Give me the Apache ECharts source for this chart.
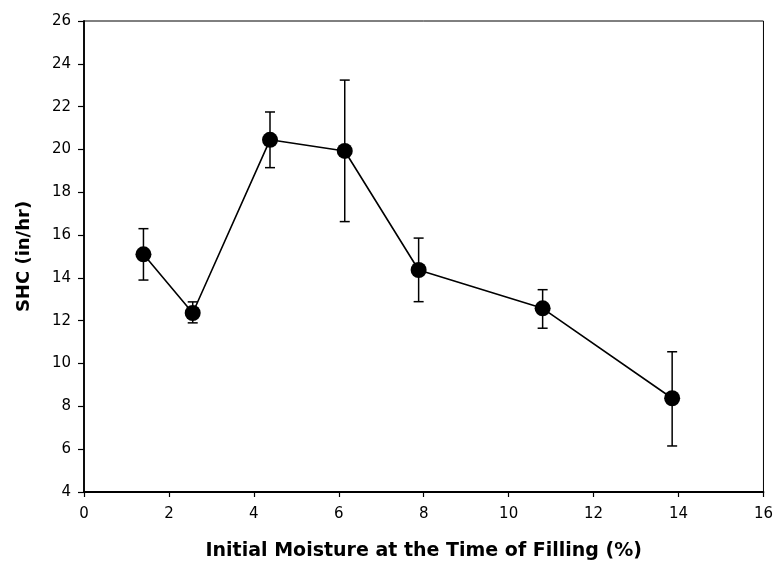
<!DOCTYPE html>
<html>
<head>
<meta charset="utf-8">
<script src="https://cdn.jsdelivr.net/npm/echarts@6/dist/echarts.min.js"></script>
<style>html,body{margin:0;padding:0;background:#fff;}#c{width:776px;height:569px;}</style>
</head>
<body>
<div id="c"></div>
<script>
var moisture = [1.4, 2.56, 4.38, 6.14, 7.88, 10.8, 13.85];
var shc = [15.1, 12.36, 20.45, 19.93, 14.37, 12.58, 8.38];
var errLow = [13.9, 11.9, 19.15, 16.63, 12.89, 11.65, 6.15];
var errHigh = [16.3, 12.88, 21.75, 23.24, 15.86, 13.45, 10.55];
var xTicks = [0, 2, 4, 6, 8, 10, 12, 14, 16];
var yTicks = [4, 6, 8, 10, 12, 14, 16, 18, 20, 22, 24, 26];

var lineData = moisture.map(function (x, i) { return [x, shc[i]]; });
var errData = moisture.map(function (x, i) { return [x, errLow[i], errHigh[i]]; });

var chart = echarts.init(document.getElementById('c'));
var font = 'DejaVu Sans, Liberation Sans, Arial, sans-serif';
chart.setOption({
  animation: false,
  backgroundColor: '#fff',
  grid: { left: 84, right: 12, top: 21, bottom: 77, show: true, borderColor: '#000', borderWidth: 1, backgroundColor: 'transparent' },
  xAxis: {
    type: 'value', min: xTicks[0], max: xTicks[xTicks.length - 1], interval: 2,
    name: 'Initial Moisture at the Time of Filling (%)', nameLocation: 'middle', nameGap: 50,
    nameTextStyle: { fontFamily: font, fontWeight: 'bold', fontSize: 19, color: '#000' },
    axisLine: { onZero: false, lineStyle: { color: '#000', width: 1.8 } },
    axisTick: { show: true, inside: false, length: 5, lineStyle: { color: '#000', width: 1.2 } },
    axisLabel: { margin: 15, fontFamily: font, fontSize: 15, color: '#000' },
    splitLine: { show: false }
  },
  yAxis: {
    type: 'value', min: yTicks[0], max: yTicks[yTicks.length - 1], interval: 2,
    name: 'SHC (in/hr)', nameLocation: 'middle', nameGap: 51,
    nameTextStyle: { fontFamily: font, fontWeight: 'bold', fontSize: 18, color: '#000' },
    axisLine: { onZero: false, lineStyle: { color: '#000', width: 1.8 } },
    axisTick: { show: true, inside: false, length: 6, lineStyle: { color: '#000', width: 1.2 } },
    axisLabel: { margin: 13, fontFamily: font, fontSize: 15, color: '#000' },
    splitLine: { show: false }
  },
  series: [
    {
      type: 'custom',
      data: errData,
      z: 1,
      renderItem: function (params, api) {
        var x = api.value(0);
        var lo = api.coord([x, api.value(1)]);
        var hi = api.coord([x, api.value(2)]);
        var w = 5;
        var st = { stroke: '#000', lineWidth: 1.5 };
        return {
          type: 'group',
          children: [
            { type: 'line', shape: { x1: lo[0], y1: lo[1], x2: hi[0], y2: hi[1] }, style: st },
            { type: 'line', shape: { x1: lo[0] - w, y1: lo[1], x2: lo[0] + w, y2: lo[1] }, style: st },
            { type: 'line', shape: { x1: hi[0] - w, y1: hi[1], x2: hi[0] + w, y2: hi[1] }, style: st }
          ]
        };
      }
    },
    {
      type: 'line',
      data: lineData,
      z: 2,
      symbol: 'circle',
      symbolSize: 16,
      lineStyle: { color: '#000', width: 1.6 },
      itemStyle: { color: '#000' }
    }
  ]
});
</script>
</body>
</html>
